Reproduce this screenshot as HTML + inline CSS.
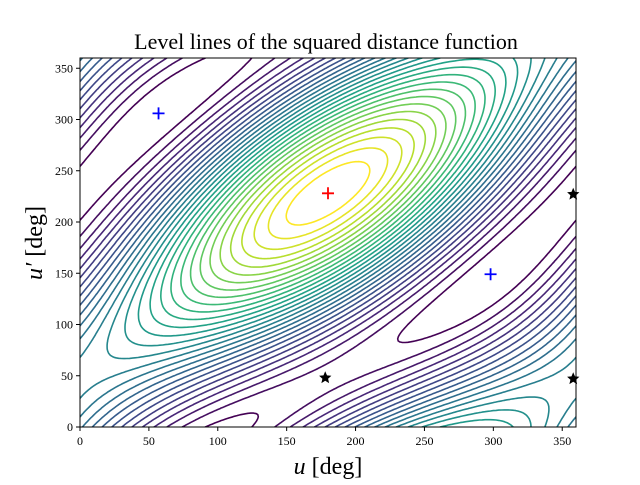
<!DOCTYPE html>
<html><head><meta charset="utf-8"><style>
body{margin:0;background:#fff;}
svg text{font-family:"Liberation Serif",serif;fill:#000;}
</style></head><body>
<svg id="chart" width="640" height="480" viewBox="0 0 640 480">
<text x="326" y="49" font-size="22" text-anchor="middle">Level lines of the squared distance function</text>
<g id="plot" clip-path="url(#clip)"></g>
<defs><clipPath id="clip"><rect x="80" y="58" width="496" height="369"/></clipPath></defs>
<rect x="80" y="58" width="496" height="369" fill="none" stroke="#000" stroke-width="1"/>
<g id="axes"></g>
<g id="marks"></g>
<text x="328" y="474" font-size="24" text-anchor="middle"><tspan font-style="italic">u</tspan> [deg]</text>
<text transform="translate(42,243) rotate(-90)" font-size="24" text-anchor="middle"><tspan font-style="italic">u′</tspan> [deg]</text>
</svg>
<script>
// function coefficients: f = P cos(x-y) + Q cos x + R cos y, with x=u-cu, y=v-cv
const coefP = [1.0];
const coefQ = [0.43];
const coefR = [0.37];
const centerUV = [180, 228];
const xTicks = [0,50,100,150,200,250,300,350];
const yTicks = [0,50,100,150,200,250,300,350];
const nLevels = [30];
const redPlus = [[180,228]];
const bluePlus = [[57,306],[298,149]];
const blackStars = [[178,48],[358,227],[358,47]];

const X0=80,X1=576,Y0=427,Y1=58;
const sx=v=>X0+(X1-X0)*v/360, sy=v=>Y0-(Y0-Y1)*v/360;
const NS="http://www.w3.org/2000/svg";
const d2r=Math.PI/180;
function f(u,v){const x=(u-centerUV[0])*d2r,y=(v-centerUV[1])*d2r;
 return coefP[0]*Math.cos(x-y)+coefQ[0]*Math.cos(x)+coefR[0]*Math.cos(y);}
const N=180,step=360/N;const G=[];
let mn=1e9,mx=-1e9;
for(let i=0;i<=N;i++){G[i]=[];for(let j=0;j<=N;j++){const z=f(i*step,j*step);G[i][j]=z;mn=Math.min(mn,z);mx=Math.max(mx,z);}}
for(let u=0;u<360;u+=1)for(let v=0;v<360;v+=1){const z=f(u,v);mn=Math.min(mn,z);mx=Math.max(mx,z);}
const stops=[[68,1,84],[72,40,120],[62,74,137],[49,104,142],[38,130,142],[31,158,137],[53,183,121],[109,205,89],[180,222,44],[253,231,37]];
function vir(t){t=Math.max(0,Math.min(1,t))*9;const k=Math.min(8,Math.floor(t)),r=t-k;const a=stops[k],b=stops[k+1];
 return `rgb(${a.map((c,i)=>Math.round(c+(b[i]-c)*r)).join(',')})`;}
const plot=document.getElementById('plot');
const L=nLevels[0];
for(let l=1;l<L;l++){
 const lv=mn+(mx-mn)*l/L;let d="";
 for(let i=0;i<N;i++)for(let j=0;j<N;j++){
  const c=[[i,j],[i+1,j],[i+1,j+1],[i,j+1]];const pts=[];
  for(let e=0;e<4;e++){const p=c[e],q=c[(e+1)%4];const a=G[p[0]][p[1]]-lv,b=G[q[0]][q[1]]-lv;
   if((a<0)!==(b<0)){const t=a/(a-b);pts.push([(p[0]+(q[0]-p[0])*t)*step,(p[1]+(q[1]-p[1])*t)*step]);}}
  for(let k=0;k+1<pts.length;k+=2)d+=`M${sx(pts[k][0]).toFixed(1)} ${sy(pts[k][1]).toFixed(1)}L${sx(pts[k+1][0]).toFixed(1)} ${sy(pts[k+1][1]).toFixed(1)}`;
 }
 const p=document.createElementNS(NS,'path');
 p.setAttribute('d',d);p.setAttribute('stroke',vir((l-1)/(L-2)));p.setAttribute('stroke-width','1.6');p.setAttribute('fill','none');p.setAttribute('stroke-linecap','round');
 
 
 plot.appendChild(p);
}
const axes=document.getElementById('axes');
xTicks.forEach(t=>{const x=sx(t);
 const ln=document.createElementNS(NS,'line');ln.setAttribute('x1',x);ln.setAttribute('x2',x);ln.setAttribute('y1',Y0);ln.setAttribute('y2',Y0+4);ln.setAttribute('stroke','#000');
 
 
 axes.appendChild(ln);
 const tx=document.createElementNS(NS,'text');tx.setAttribute('x',x);tx.setAttribute('y',Y0+18);tx.setAttribute('font-size','12');tx.setAttribute('text-anchor','middle');tx.textContent=t;
 
 
 axes.appendChild(tx);});
yTicks.forEach(t=>{const y=sy(t);
 const ln=document.createElementNS(NS,'line');ln.setAttribute('x1',X0-4);ln.setAttribute('x2',X0);ln.setAttribute('y1',y);ln.setAttribute('y2',y);ln.setAttribute('stroke','#000');
 
 
 axes.appendChild(ln);
 const tx=document.createElementNS(NS,'text');tx.setAttribute('x',X0-7);tx.setAttribute('y',y+4);tx.setAttribute('font-size','12');tx.setAttribute('text-anchor','end');tx.textContent=t;
 
 
 axes.appendChild(tx);});
const marks=document.getElementById('marks');
function plus(pt,col,name){const x=sx(pt[0]),y=sy(pt[1]);
 const p=document.createElementNS(NS,'path');p.setAttribute('d',`M${x-6} ${y}H${x+6}M${x} ${y-6}V${y+6}`);p.setAttribute('stroke',col);p.setAttribute('stroke-width','1.8');
 
 
 marks.appendChild(p);}
redPlus.forEach(p=>plus(p,'#f00','maximum-marker'));
bluePlus.forEach(p=>plus(p,'#00f','minimum-marker'));
blackStars.forEach(pt=>{const x=sx(pt[0]),y=sy(pt[1]);let d="";
 for(let k=0;k<10;k++){const r=k%2?3:6.5,a=-Math.PI/2+k*Math.PI/5;d+=(k?'L':'M')+(x+r*Math.cos(a)).toFixed(1)+' '+(y+r*Math.sin(a)).toFixed(1);}
 const p=document.createElementNS(NS,'path');p.setAttribute('d',d+'Z');p.setAttribute('fill','#000');
 
 
 marks.appendChild(p);});
</script>
</body></html>
